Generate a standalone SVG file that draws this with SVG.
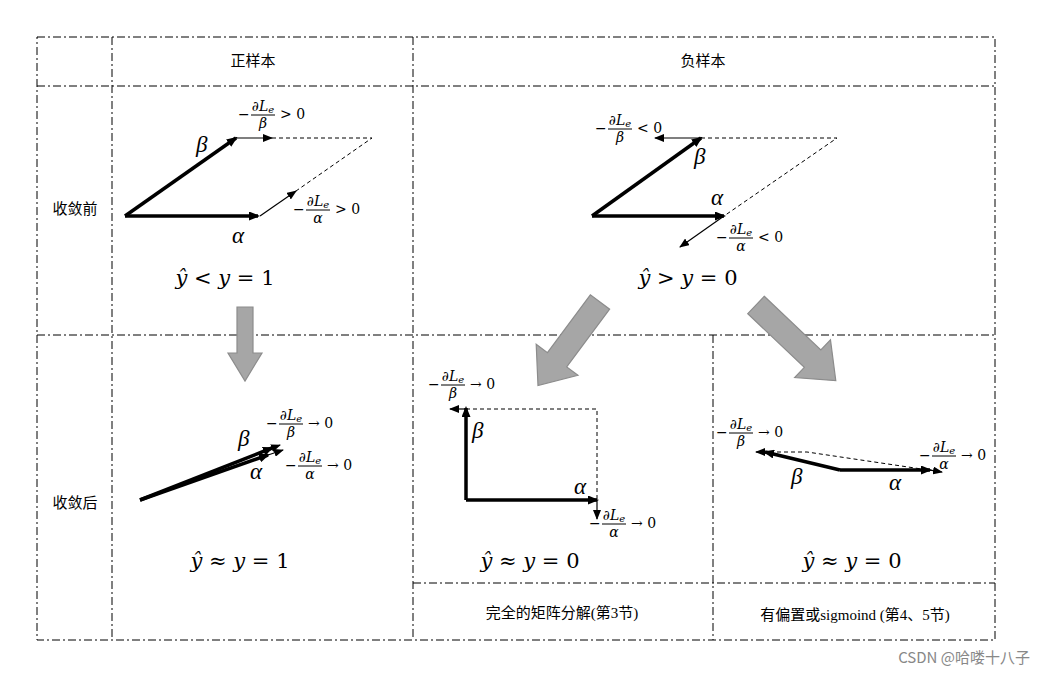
<svg xmlns="http://www.w3.org/2000/svg" width="1044" height="677" viewBox="0 0 1044 677">
<style>
.grid{stroke:#000;stroke-width:1;stroke-dasharray:8,3,2,3;fill:none}
.cn{font-family:"Liberation Serif","Noto Sans CJK SC",serif;font-size:15px;fill:#000}
.m{font-family:"DejaVu Serif","Liberation Serif",serif;font-size:14px;fill:#000}
.mi{font-family:"DejaVu Serif","Liberation Serif",serif;font-style:italic;font-size:14px;fill:#000}
.big{font-family:"Liberation Serif",serif;font-style:italic;font-size:23px;fill:#000}
.eq{font-family:"DejaVu Serif","Liberation Serif",serif;font-size:21px;fill:#000}
.v{stroke:#000;stroke-width:3.5;fill:none}
.t{stroke:#000;stroke-width:1.2;fill:none}
.d{stroke:#000;stroke-width:1;stroke-dasharray:4,3;fill:none}
.bar{stroke:#000;stroke-width:1}
.ga{fill:#a6a6a6;stroke:#8c8c8c;stroke-width:1.2}
</style>
<defs>
<marker id="as" markerWidth="10" markerHeight="8" refX="9" refY="4" orient="auto" markerUnits="userSpaceOnUse"><path d="M0,0L10,4L0,8z" fill="#000"/></marker>
<marker id="av" markerWidth="11" markerHeight="9" refX="9" refY="4.5" orient="auto" markerUnits="userSpaceOnUse"><path d="M0,0L11,4.5L0,9z" fill="#000"/></marker>
</defs>
<g id="grid">
<rect class="grid" x="37" y="37" width="958" height="603"/>
<line class="grid" x1="112" y1="37" x2="112" y2="640"/>
<line class="grid" x1="413" y1="37" x2="413" y2="640"/>
<line class="grid" x1="713" y1="335" x2="713" y2="640"/>
<line class="grid" x1="37" y1="86" x2="995" y2="86"/>
<line class="grid" x1="37" y1="335" x2="995" y2="335"/>
<line class="grid" x1="413" y1="583" x2="995" y2="583"/>
</g>
<g id="headers">
<text class="cn" x="253" y="66" text-anchor="middle">正样本</text>
<text class="cn" x="703" y="66" text-anchor="middle">负样本</text>
<text class="cn" x="75" y="214" text-anchor="middle">收敛前</text>
<text class="cn" x="75" y="508" text-anchor="middle">收敛后</text>
<text class="cn" x="562" y="618" text-anchor="middle">完全的矩阵分解(第3节)</text>
<text class="cn" x="855" y="620" text-anchor="middle">有偏置或sigmoind (第4、5节)</text>
</g>
<g id="big-arrows">
<polygon class="ga" transform="translate(245,307) rotate(90)" points="0,-8 46,-8 46,-17 74,0 46,17 46,8 0,8"/>
<polygon class="ga" transform="translate(600,302) rotate(126.6)" points="0,-12 72,-12 72,-26 104,0 72,26 72,12 0,12"/>
<polygon class="ga" transform="translate(756,305) rotate(43.5)" points="0,-12 78,-12 78,-26 110,0 78,26 78,12 0,12"/>
</g>
<g id="connectors">
<line class="v" x1="125" y1="216" x2="258" y2="216" marker-end="url(#av)"/>
<line class="v" x1="125" y1="216" x2="236" y2="138" marker-end="url(#av)"/>
<line class="t" x1="236" y1="138" x2="272" y2="138" marker-end="url(#as)"/>
<line class="t" x1="260" y1="216" x2="296" y2="191" marker-end="url(#as)"/>
<path class="d" d="M272,138H372L296,191"/>
<line class="v" x1="592" y1="216" x2="724" y2="216" marker-end="url(#av)"/>
<line class="v" x1="592" y1="216" x2="701" y2="138" marker-end="url(#av)"/>
<line class="t" x1="701" y1="138" x2="655" y2="138" marker-end="url(#as)"/>
<line class="t" x1="724" y1="216" x2="680" y2="247" marker-end="url(#as)"/>
<path class="d" d="M701,138H837L724,216"/>
<line class="v" x1="140" y1="500" x2="272" y2="448" marker-end="url(#av)"/>
<line class="v" x1="140" y1="500" x2="268" y2="455" marker-end="url(#av)"/>
<line class="t" x1="272" y1="448" x2="280" y2="445" marker-end="url(#as)"/>
<line class="t" x1="268" y1="455" x2="283" y2="450" marker-end="url(#as)"/>
<line class="v" x1="466" y1="500" x2="466" y2="408" marker-end="url(#av)"/>
<line class="v" x1="466" y1="500" x2="597" y2="500" marker-end="url(#av)"/>
<line class="t" x1="466" y1="409" x2="450" y2="409" marker-end="url(#as)"/>
<line class="t" x1="597" y1="500" x2="597" y2="519" marker-end="url(#as)"/>
<path class="d" d="M466,409H597V500"/>
<line class="v" x1="840" y1="470" x2="765" y2="452" marker-end="url(#av)"/>
<line class="v" x1="840" y1="470" x2="930" y2="470" marker-end="url(#av)"/>
<line class="t" x1="765" y1="452" x2="756" y2="452" marker-end="url(#as)"/>
<line class="t" x1="930" y1="470" x2="942" y2="472" marker-end="url(#as)"/>
<path class="d" d="M770,452H807L935,471"/>
</g>
<g id="vector-labels">
<text class="big" x="196" y="152">β</text>
<text class="big" x="232" y="243">α</text>
<text class="big" x="694" y="164">β</text>
<text class="big" x="711" y="205">α</text>
<text class="big" x="238" y="446">β</text>
<text class="big" x="250" y="479">α</text>
<text class="big" x="472" y="438">β</text>
<text class="big" x="574" y="494">α</text>
<text class="big" x="791" y="484">β</text>
<text class="big" x="889" y="490">α</text>
</g>
<g id="equations">
<text class="eq" x="225" y="285" text-anchor="middle"><tspan font-style="italic">ŷ</tspan> &lt; <tspan font-style="italic">y</tspan> = 1</text>
<text class="eq" x="688" y="285" text-anchor="middle"><tspan font-style="italic">ŷ</tspan> &gt; <tspan font-style="italic">y</tspan> = 0</text>
<text class="eq" x="240" y="568" text-anchor="middle"><tspan font-style="italic">ŷ</tspan> ≈ <tspan font-style="italic">y</tspan> = 1</text>
<text class="eq" x="530" y="568" text-anchor="middle"><tspan font-style="italic">ŷ</tspan> ≈ <tspan font-style="italic">y</tspan> = 0</text>
<text class="eq" x="852" y="568" text-anchor="middle"><tspan font-style="italic">ŷ</tspan> ≈ <tspan font-style="italic">y</tspan> = 0</text>
</g>
<g id="gradient-labels">
<g transform="translate(238,115)"><text class="m" x="0" y="4">−</text><text class="mi" x="25" y="-4" text-anchor="middle">∂L<tspan font-size="10" dy="2">e</tspan></text><line class="bar" x1="13" y1="0" x2="37" y2="0"/><text class="mi" x="25" y="13" text-anchor="middle">β</text><text class="m" x="42" y="4">&gt; 0</text></g>
<g transform="translate(293,210)"><text class="m" x="0" y="4">−</text><text class="mi" x="25" y="-4" text-anchor="middle">∂L<tspan font-size="10" dy="2">e</tspan></text><line class="bar" x1="13" y1="0" x2="37" y2="0"/><text class="mi" x="25" y="13" text-anchor="middle">α</text><text class="m" x="42" y="4">&gt; 0</text></g>
<g transform="translate(595,129)"><text class="m" x="0" y="4">−</text><text class="mi" x="25" y="-4" text-anchor="middle">∂L<tspan font-size="10" dy="2">e</tspan></text><line class="bar" x1="13" y1="0" x2="37" y2="0"/><text class="mi" x="25" y="13" text-anchor="middle">β</text><text class="m" x="42" y="4">&lt; 0</text></g>
<g transform="translate(716,238)"><text class="m" x="0" y="4">−</text><text class="mi" x="25" y="-4" text-anchor="middle">∂L<tspan font-size="10" dy="2">e</tspan></text><line class="bar" x1="13" y1="0" x2="37" y2="0"/><text class="mi" x="25" y="13" text-anchor="middle">α</text><text class="m" x="42" y="4">&lt; 0</text></g>
<g transform="translate(266,424)"><text class="m" x="0" y="4">−</text><text class="mi" x="25" y="-4" text-anchor="middle">∂L<tspan font-size="10" dy="2">e</tspan></text><line class="bar" x1="13" y1="0" x2="37" y2="0"/><text class="mi" x="25" y="13" text-anchor="middle">β</text><text class="m" x="42" y="4">→ 0</text></g>
<g transform="translate(285,466)"><text class="m" x="0" y="4">−</text><text class="mi" x="25" y="-4" text-anchor="middle">∂L<tspan font-size="10" dy="2">e</tspan></text><line class="bar" x1="13" y1="0" x2="37" y2="0"/><text class="mi" x="25" y="13" text-anchor="middle">α</text><text class="m" x="42" y="4">→ 0</text></g>
<g transform="translate(428,385)"><text class="m" x="0" y="4">−</text><text class="mi" x="25" y="-4" text-anchor="middle">∂L<tspan font-size="10" dy="2">e</tspan></text><line class="bar" x1="13" y1="0" x2="37" y2="0"/><text class="mi" x="25" y="13" text-anchor="middle">β</text><text class="m" x="42" y="4">→ 0</text></g>
<g transform="translate(589,524)"><text class="m" x="0" y="4">−</text><text class="mi" x="25" y="-4" text-anchor="middle">∂L<tspan font-size="10" dy="2">e</tspan></text><line class="bar" x1="13" y1="0" x2="37" y2="0"/><text class="mi" x="25" y="13" text-anchor="middle">α</text><text class="m" x="42" y="4">→ 0</text></g>
<g transform="translate(716,433)"><text class="m" x="0" y="4">−</text><text class="mi" x="25" y="-4" text-anchor="middle">∂L<tspan font-size="10" dy="2">e</tspan></text><line class="bar" x1="13" y1="0" x2="37" y2="0"/><text class="mi" x="25" y="13" text-anchor="middle">β</text><text class="m" x="42" y="4">→ 0</text></g>
<g transform="translate(919,456)"><text class="m" x="0" y="4">−</text><text class="mi" x="25" y="-4" text-anchor="middle">∂L<tspan font-size="10" dy="2">e</tspan></text><line class="bar" x1="13" y1="0" x2="37" y2="0"/><text class="mi" x="25" y="13" text-anchor="middle">α</text><text class="m" x="42" y="4">→ 0</text></g>
</g>
<text x="1030" y="663" text-anchor="end" style="font-family:'Noto Sans CJK SC','Noto Sans',sans-serif;font-size:15px;fill:#888">CSDN @哈喽十八子</text>
</svg>
